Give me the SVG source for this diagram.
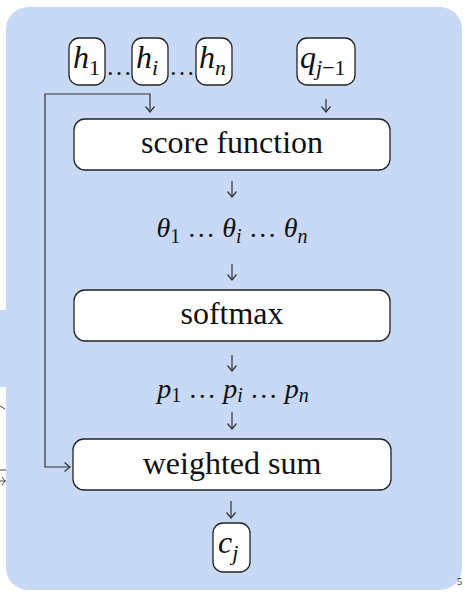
<svg xmlns="http://www.w3.org/2000/svg" width="465" height="593" viewBox="0 0 465 593" font-family="Liberation Serif, DejaVu Serif, serif">
<style>
.bg{fill:#c8d9f5}
.box{fill:#fff;stroke:#222;stroke-width:1.3}
text{fill:#111}
.lbl{font-size:32px;text-anchor:middle}
.m{font-style:italic}
.up{font-style:normal}
.c{fill:none;stroke:#333;stroke-width:1.2}
</style>
<defs>
<marker id="ah" markerUnits="userSpaceOnUse" markerWidth="12" markerHeight="12" refX="7" refY="6" orient="auto-start-reverse" viewBox="0 0 12 12">
<path d="M1.5,1.5 L7,6 L1.5,10.5" fill="none" stroke="#333" stroke-width="1.2"/>
</marker>
</defs>
<rect width="465" height="593" fill="#fff"/>
<rect x="-10" y="310" width="30" height="77" rx="8" class="bg"/>
<path d="M0,406 L5,409 M0,470 H6 M0,481 H6 M2,477 L5,481 L2,485" fill="none" stroke="#444" stroke-width="1"/>
<rect x="6" y="7" width="456" height="583" rx="22" class="bg"/>
<text x="457" y="585" font-size="10" fill="#333">5</text>

<g id="connectors">
<path class="c" d="M150,112 V94 H45 V467 H70" marker-start="url(#ah)" marker-end="url(#ah)"/>
<path class="c" d="M326,99 V112" marker-end="url(#ah)"/>
<path class="c" d="M232,181 V197" marker-end="url(#ah)"/>
<path class="c" d="M232,264 V280" marker-end="url(#ah)"/>
<path class="c" d="M232,355 V371" marker-end="url(#ah)"/>
<path class="c" d="M232,412 V429" marker-end="url(#ah)"/>
<path class="c" d="M231,501 V518" marker-end="url(#ah)"/>
</g>

<g id="h1">
<rect x="69" y="38" width="36" height="47" rx="10" class="box"/>
<text class="m" x="73" y="68" font-size="32">h<tspan class="up" font-size="22" dy="7">1</tspan></text>
</g>
<text class="up" x="106" y="75" font-size="26">…</text>
<g id="hi">
<rect x="132" y="38" width="36" height="47" rx="10" class="box"/>
<text class="m" x="136" y="68" font-size="32">h<tspan font-size="22" dy="7">i</tspan></text>
</g>
<text class="up" x="169" y="75" font-size="26">…</text>
<g id="hn">
<rect x="196" y="38" width="36" height="47" rx="10" class="box"/>
<text class="m" x="199" y="68" font-size="32">h<tspan font-size="22" dy="7">n</tspan></text>
</g>
<g id="q">
<rect x="297" y="38" width="58" height="47" rx="10" class="box"/>
<text class="m" x="300" y="68" font-size="32">q<tspan font-size="22" dy="7">j</tspan><tspan class="up" font-size="22">−1</tspan></text>
</g>

<g id="score">
<rect x="74" y="119" width="316" height="51" rx="11" class="box"/>
<text class="lbl" x="232" y="153">score function</text>
</g>

<g id="theta">
<text class="m" x="232" y="237" font-size="28" text-anchor="middle">θ<tspan class="up" font-size="20" dy="6">1</tspan><tspan class="up" dy="-6"> … </tspan>θ<tspan font-size="20" dy="6">i</tspan><tspan class="up" dy="-6"> … </tspan>θ<tspan font-size="20" dy="6">n</tspan></text>
</g>

<g id="softmax">
<rect x="74" y="290" width="316" height="51" rx="11" class="box"/>
<text class="lbl" x="232" y="324">softmax</text>
</g>

<g id="p">
<text class="m" x="233" y="398" font-size="28" text-anchor="middle">p<tspan class="up" font-size="20" dy="4">1</tspan><tspan class="up" dy="-4"> … </tspan>p<tspan font-size="20" dy="4">i</tspan><tspan class="up" dy="-4"> … </tspan>p<tspan font-size="20" dy="4">n</tspan></text>
</g>

<g id="weighted">
<rect x="73" y="439" width="318" height="51" rx="11" class="box"/>
<text class="lbl" x="232" y="474">weighted sum</text>
</g>

<g id="cj">
<rect x="213" y="523" width="37" height="49" rx="10" class="box"/>
<text class="m" x="218" y="553" font-size="32">c<tspan font-size="22" dy="7">j</tspan></text>
</g>
</svg>
